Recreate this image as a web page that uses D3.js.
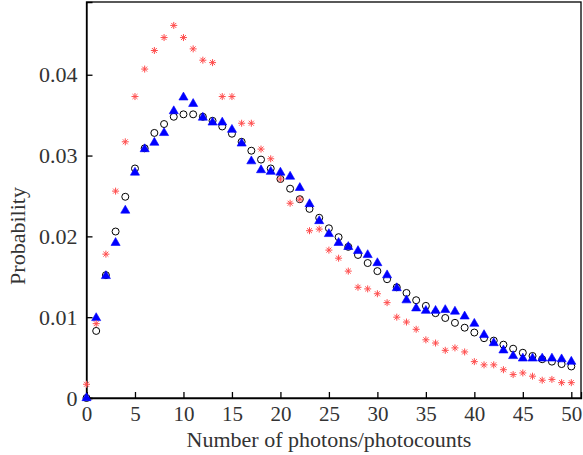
<!DOCTYPE html>
<html>
<head>
<meta charset="utf-8">
<script src="https://cdn.jsdelivr.net/npm/d3@7"></script>
<style>
	body { margin: 0; background: #fff; }
	text { font-family: 'Liberation Serif', 'DejaVu Serif', serif; fill: #333; }
</style>
</head>
<body>
<svg id="chart" width="583" height="455"></svg>
<script>
// photon numbers 0..50
const counts = d3.range(0, 51)

// open black circles
const circleVals = [
	0, 0.0083, 0.0152, 0.0206, 0.0249, 0.0284, 0.0309, 0.0328, 0.0339, 0.0348,
	0.0351, 0.0351, 0.0348, 0.0343, 0.0336, 0.0327, 0.0317, 0.0306, 0.0295, 0.0284,
	0.0271, 0.0259, 0.0246, 0.0234, 0.0223, 0.0210, 0.0199, 0.0187, 0.0177, 0.0167,
	0.0157, 0.0147, 0.0137, 0.0130, 0.0121, 0.0114, 0.0105, 0.0099, 0.0093, 0.0087,
	0.0081, 0.0074, 0.0071, 0.0066, 0.0061, 0.0056, 0.0052, 0.0048, 0.0045, 0.0042,
	0.0039
]

// blue filled triangles
const triangleVals = [
	0, 0.0099, 0.0151, 0.0192, 0.0232, 0.0279, 0.0308, 0.0316, 0.0328, 0.0355,
	0.0372, 0.0364, 0.0347, 0.0341, 0.0341, 0.0332, 0.0315, 0.0293, 0.0282, 0.0280,
	0.0279, 0.0274, 0.0260, 0.0240, 0.0219, 0.0203, 0.0192, 0.0187, 0.0182, 0.0177,
	0.0167, 0.0152, 0.0136, 0.0121, 0.0111, 0.0108, 0.0108, 0.0109, 0.0107, 0.0101,
	0.0092, 0.0078, 0.0068, 0.0059, 0.0052, 0.0049, 0.0049, 0.0049, 0.0049, 0.0048,
	0.0045
]

// red asterisks
const starVals = [
	0.0017, 0.0092, 0.0178, 0.0256, 0.0317, 0.0373, 0.0407, 0.0430, 0.0446, 0.0461,
	0.0446, 0.0432, 0.0418, 0.0415, 0.0373, 0.0373, 0.0340, 0.0340, 0.0308, 0.0296,
	0.0271, 0.0241, 0.0246, 0.0207, 0.0209, 0.0183, 0.0173, 0.0157, 0.0137, 0.0135,
	0.0129, 0.0118, 0.0100, 0.0094, 0.0085, 0.0072, 0.0068, 0.0059, 0.0062, 0.0057,
	0.0045, 0.0041, 0.0041, 0.0035, 0.0029, 0.0031, 0.0027, 0.0022, 0.0023, 0.0019,
	0.0019
]

const xTicks = [0, 5, 10, 15, 20, 25, 30, 35, 40, 45, 50]
const yTicks = [0, 0.01, 0.02, 0.03, 0.04]

const margin = { top: 2, right: 2, bottom: 57, left: 86.5 }
const width = 583
const height = 455

const xScale = d3.scaleLinear()
	.domain([0, 51])
	.range([margin.left, width - margin.right])

const yScale = d3.scaleLinear()
	.domain([0, 0.049])
	.range([height - margin.bottom, margin.top])

const svg = d3.select('#chart')

// frame
svg.append('rect')
	.attr('x', margin.left)
	.attr('y', margin.top)
	.attr('width', width - margin.right - margin.left)
	.attr('height', height - margin.bottom - margin.top)
	.style('fill', 'none')
	.style('stroke', '#000')
	.style('stroke-width', 1.3)

const xAxis = svg.append('g')
	.attr('transform', `translate(0,${height - margin.bottom})`)
	.call(d3.axisBottom(xScale).tickValues(xTicks).tickSize(-6).tickPadding(8).tickFormat(d3.format('d')))

const yAxis = svg.append('g')
	.attr('transform', `translate(${margin.left},0)`)
	.call(d3.axisLeft(yScale).tickValues(yTicks).tickSize(-6).tickPadding(9)
		.tickFormat(d => (d === 0 ? '0' : d3.format('.2f')(d))))

svg.selectAll('.domain').style('stroke', '#000').style('stroke-width', 1.3)
svg.selectAll('.tick line').style('stroke', '#000').style('stroke-width', 1.3)
svg.selectAll('.tick text').style('font-size', '22px').style('fill', '#333')
	.style('font-family', "'Liberation Serif', serif")
xAxis.selectAll('.tick text').style('font-size', '21px').attr('dy', '0.7em')

svg.append('text')
	.attr('x', 329)
	.attr('y', 447)
	.attr('text-anchor', 'middle')
	.style('font-size', '22px')
	.text('Number of photons/photocounts')

svg.append('text')
	.attr('transform', 'translate(25,236) rotate(-90)')
	.attr('text-anchor', 'middle')
	.style('font-size', '22px')
	.text('Probability')

// 8-armed asterisk like matlab '*'
const starSymbol = {
	draw(ctx, size) {
		const r = Math.sqrt(size) / 2
		const d = r * Math.SQRT1_2
		ctx.moveTo(-r, 0); ctx.lineTo(r, 0)
		ctx.moveTo(0, -r); ctx.lineTo(0, r)
		ctx.moveTo(-d, -d); ctx.lineTo(d, d)
		ctx.moveTo(-d, d); ctx.lineTo(d, -d)
	}
}

const plot = svg.append('g')

plot.selectAll('circle.obs')
	.data(counts)
	.enter()
	.append('circle')
	.attr('class', 'obs')
	.attr('cx', d => xScale(d))
	.attr('cy', d => yScale(circleVals[d]))
	.attr('r', 3.5)
	.style('fill', 'none')
	.style('stroke', '#000')
	.style('stroke-width', 1)

plot.selectAll('path.tri')
	.data(counts)
	.enter()
	.append('path')
	.attr('class', 'tri')
	.attr('transform', d => `translate(${xScale(d)},${yScale(triangleVals[d])})`)
	.attr('d', d3.symbol(d3.symbolTriangle, 36))
	.style('fill', '#0000ff')
	.style('stroke', '#0000ff')
	.style('stroke-width', 0.6)

plot.selectAll('path.star')
	.data(counts)
	.enter()
	.append('path')
	.attr('class', 'star')
	.attr('transform', d => `translate(${xScale(d)},${yScale(starVals[d])})`)
	.attr('d', d3.symbol(starSymbol, 49))
	.style('fill', 'none')
	.style('stroke', '#ff4d4d')
	.style('stroke-width', 1)
</script>
</body>
</html>
